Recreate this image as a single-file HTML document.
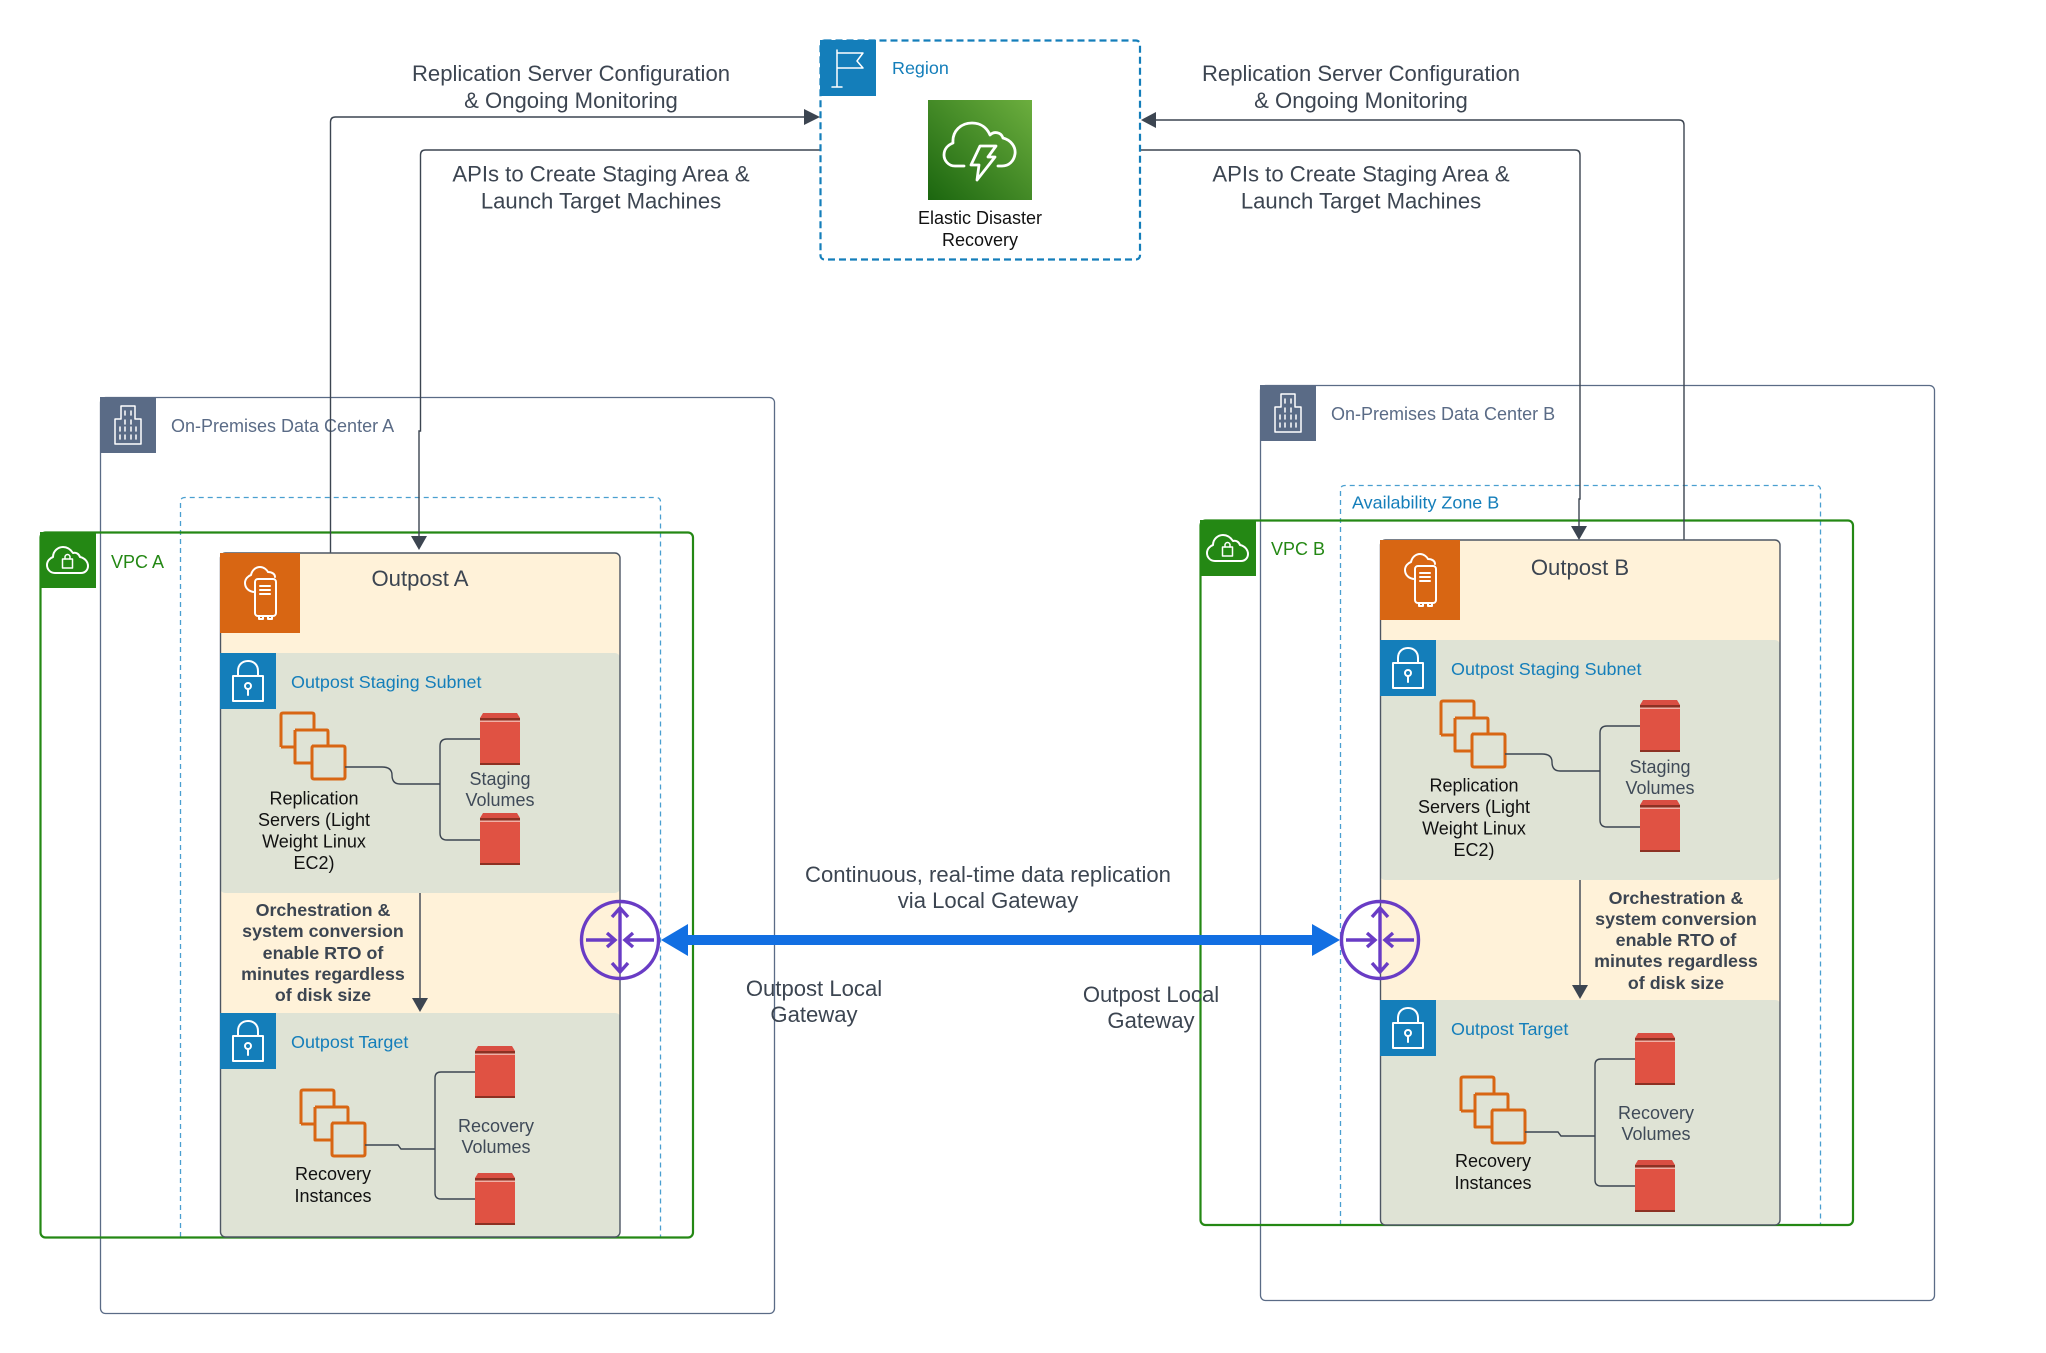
<!DOCTYPE html>
<html><head><meta charset="utf-8"><style>
html,body{margin:0;padding:0;background:#fff}
svg{display:block}
text{font-family:"Liberation Sans",sans-serif}
.big{font-size:22.1px;fill:#3c4551;text-anchor:middle}
.sm{font-size:18px;fill:#111;text-anchor:middle}
.vol{font-size:18px;fill:#3f4a58;text-anchor:middle}
.bl{font-size:17.95px;fill:#147eba}
.orc{font-size:17.85px;font-weight:bold;fill:#3c4551;text-anchor:middle}
.ln{fill:none;stroke:#3c4551;stroke-width:1.4}
.ic{fill:none;stroke:#fff;stroke-width:2;stroke-linejoin:round;stroke-linecap:round}
.th{stroke-width:1.5}
.cu{fill:none;stroke:#d86613;stroke-width:3;stroke-linejoin:round}
.rt{fill:none;stroke:#693cc5;stroke-width:3.4}
</style></head><body>
<svg width="2046" height="1353" viewBox="0 0 2046 1353" xmlns="http://www.w3.org/2000/svg">
<defs>
<linearGradient id="g" x1="0" y1="1" x2="1" y2="0"><stop offset="0" stop-color="#1b660f"/><stop offset="1" stop-color="#6cae3e"/></linearGradient>
<g id="bld"><rect width="56" height="56" fill="#5a6b86"/><path class="ic th" d="M15 47V22H21V9H35V22H41V47ZM25 14v4M31 14v4M25 23v4M31 23v4M20 30v4M25 30v4M31 30v4M36 30v4M20 38v4M25 38v4M31 38v4M36 38v4"/></g>
<g id="vpc"><rect width="56" height="56" fill="#248814"/><path class="ic" d="M17 41H15C10 41 7 37 7 33 7 29 10 26 13 25 13 19 18 15 23 15 28 15 31 18 33 21 36 20 39 22 40 25 45 26 48 30 48 34 48 38 45 41 41 41Z"/><rect class="ic th" x="22.500" y="27" width="10" height="9"/><path class="ic th" d="M25 27v-2a2.500 2.500 0 0 1 5 0v2"/></g>
<g id="lock"><rect width="56" height="56" fill="#147eba"/><rect class="ic" x="13" y="23" width="30" height="25"/><path class="ic" d="M18 23V18C18 12 22 8 28 8S38 12 38 18V23M28 36V42"/><circle class="ic" cx="28" cy="33" r="3"/></g>
<g id="out"><rect width="80" height="80" fill="#d86613"/><path class="ic" d="M35 39C29 39 25 35 25 30 25 26 28 23 31 22 32 17 36 14 40 14 44 14 47 17 48 19 52 19 55 21 55 24"/><rect class="ic" x="35" y="26" width="21" height="37" rx="3"/><path class="ic" d="M40 33H50M40 37H50M40 41H50M39 63V66H43V63M48 63V66H52V63"/></g>
<g id="cubes"><path class="cu" d="M0 34V2Q0 0 2 0H31Q33 0 33 2V16M14 17H44M14 17Q14 17 14 19V50H30M31 33H62Q64 33 64 35V64Q64 66 62 66H33Q31 66 31 64V35Q31 33 33 33"/><path class="cu" d="M0 34H13M14 17H46Q47 17 47 19V32"/></g>
<g id="v"><path fill="#e05243" d="M0 9H40V52H0Z"/><path fill="#d94e42" d="M3 0H37L40 5H0Z"/><path fill="#8c3123" d="M0 5H40V7.500H0ZM0 50H40V52H0Z"/><path fill="#f0b0a6" d="M0 7.500H40V9H0Z"/></g>
<g id="rout"><circle class="rt" r="38.500"/><path class="rt" d="M0 -32V32M-8 -23 0 -32 8 -23M-8 23 0 32 8 23M-34 0H-5M-13 -7-5 0-13 7M34 0H5M13 -7 5 0 13 7"/></g>
</defs>

<!-- data centres -->
<rect x="100.500" y="397.500" width="674" height="916" rx="5" fill="none" stroke="#5a6b86" stroke-width="1.300"/>
<use href="#bld" x="100" y="397"/>
<text x="171" y="432" font-size="18" fill="#5a6b86">On-Premises Data Center A</text>
<rect x="1260.500" y="385.500" width="674" height="915" rx="5" fill="none" stroke="#5a6b86" stroke-width="1.300"/>
<use href="#bld" x="1260" y="385"/>
<text x="1331" y="420" font-size="18" fill="#5a6b86">On-Premises Data Center B</text>

<!-- availability zones -->
<path d="M180.500 1237V502Q180.500 497.500 185 497.500H656Q660.500 497.500 660.500 502V1237" fill="none" stroke="#4a9fd0" stroke-width="1.300" stroke-dasharray="5 4"/>
<path d="M1340.500 1225V490Q1340.500 485.500 1345 485.500H1816Q1820.500 485.500 1820.500 490V1225" fill="none" stroke="#4a9fd0" stroke-width="1.300" stroke-dasharray="5 4"/>
<text x="1352" y="508.500" class="bl">Availability Zone B</text>

<!-- VPCs -->
<rect x="40.500" y="532.500" width="652.500" height="705" rx="5" fill="none" stroke="#248814" stroke-width="2.200"/>
<use href="#vpc" x="40" y="532"/>
<text x="111" y="568" font-size="18" fill="#248814">VPC A</text>
<rect x="1200.500" y="520.500" width="652.500" height="704.500" rx="5" fill="none" stroke="#248814" stroke-width="2.200"/>
<use href="#vpc" x="1200" y="520"/>
<text x="1271" y="555" font-size="18" fill="#248814">VPC B</text>

<!-- connectors -->
<path class="ln" d="M330.500 553V122Q330.500 117 335.500 117H806"/>
<path class="ln" d="M820 150H425.500Q420.500 150 420.500 155V431H419V537"/>
<path class="ln" d="M1141 150H1575Q1580 150 1580 155V499H1579V527"/>
<path class="ln" d="M1684 540V125Q1684 120 1679 120H1154"/>
<path fill="#3c4551" d="M804 109 820 117 804 125ZM1156 112 1141 120 1156 128ZM411 536H427L419 550ZM1571 526H1587L1579 540Z"/>

<!-- region -->
<rect x="820.500" y="40.500" width="319.500" height="219" rx="4" fill="#fff" stroke="#147eba" stroke-width="2.200" stroke-dasharray="7 4"/>
<rect x="820" y="40" width="56" height="56" fill="#147eba"/>
<path class="ic th" d="M837 50V87M832 87H842M837 53H863L857 61 863 68H837"/>
<text x="892" y="74" class="bl">Region</text>
<rect x="928" y="100" width="104" height="100" fill="url(#g)"/>
<path fill="none" stroke="#fff" stroke-width="2.800" stroke-linecap="round" stroke-linejoin="round" d="M964 166H955C948 166 944 160 944 155 944 149 948 145 953 143 952 131 961 123 972 123 981 123 987 128 990 135 994 131 1001 132 1003 138 1011 140 1016 147 1015 154 1014 161 1009 166 1002 166H998"/>
<path fill="none" stroke="#fff" stroke-width="2.800" stroke-linejoin="round" d="M980 146H996L988 157H995L977 180 979 165H971Z"/>
<text x="980" y="224" class="sm">Elastic Disaster</text>
<text x="980" y="246" class="sm">Recovery</text>

<!-- outpost A -->
<g>
<rect x="220" y="553" width="400" height="684" rx="5" fill="#fff2d9"/>
<rect x="220" y="653" width="400" height="240" rx="5" fill="#dfe3d5"/>
<path d="M220 1013H615Q620 1013 620 1018V1232Q620 1237 615 1237H225Q220 1237 220 1232Z" fill="#dfe3d5"/>
<rect x="220.500" y="553" width="399.500" height="684" rx="5" fill="none" stroke="#4d5663" stroke-width="1.400"/>
<use href="#out" x="220" y="553"/>
<text x="420" y="586" font-size="22.100" fill="#3c4551" text-anchor="middle">Outpost A</text>
<use href="#lock" x="220" y="653"/>
<text x="291" y="688" class="bl">Outpost Staging Subnet</text>
<g transform="translate(281,713)"><use href="#cubes"/></g>
<path class="ln" d="M345 767H382Q392 767 392 775 392 784 400 784H440M480 739H447Q440 739 440 746V833Q440 840 447 840H480"/>
<use href="#v" x="480" y="713"/><use href="#v" x="480" y="813"/>
<text x="314" y="804.500" class="sm">Replication</text><text x="314" y="826" class="sm">Servers (Light</text><text x="314" y="847.500" class="sm">Weight Linux</text><text x="314" y="869" class="sm">EC2)</text>
<text x="500" y="785" class="vol">Staging</text><text x="500" y="806" class="vol">Volumes</text>
<text x="323" y="916" class="orc">Orchestration &amp;</text><text x="323" y="937" class="orc">system conversion</text><text x="323" y="959" class="orc">enable RTO of</text><text x="323" y="980" class="orc">minutes regardless</text><text x="323" y="1001" class="orc">of disk size</text>
<path class="ln" d="M420 893V1000"/><path fill="#3c4551" d="M412 998H428L420 1012Z"/>
<use href="#lock" x="220" y="1013"/>
<text x="291" y="1048" class="bl">Outpost Target</text>
<g transform="translate(301,1090)"><use href="#cubes"/></g>
<path class="ln" d="M365 1145H398L401 1149H435M475 1072H441Q435 1072 435 1078V1193Q435 1199 441 1199H475"/>
<use href="#v" x="475" y="1046"/><use href="#v" x="475" y="1173"/>
<text x="333" y="1180" class="sm">Recovery</text><text x="333" y="1202" class="sm">Instances</text>
<text x="496" y="1132" class="vol">Recovery</text><text x="496" y="1153" class="vol">Volumes</text>
</g>

<!-- outpost B -->
<g transform="translate(1160,-13)">
<rect x="220" y="553" width="400" height="685" rx="5" fill="#fff2d9"/>
<rect x="220" y="653" width="400" height="240" rx="5" fill="#dfe3d5"/>
<path d="M220 1013H615Q620 1013 620 1018V1233Q620 1238 615 1238H225Q220 1238 220 1233Z" fill="#dfe3d5"/>
<rect x="220.500" y="553" width="399.500" height="685" rx="5" fill="none" stroke="#4d5663" stroke-width="1.400"/>
<use href="#out" x="220" y="553"/>
<text x="420" y="588" font-size="22.100" fill="#3c4551" text-anchor="middle">Outpost B</text>
<use href="#lock" x="220" y="653"/>
<text x="291" y="688" class="bl">Outpost Staging Subnet</text>
<g transform="translate(281,714)"><use href="#cubes"/></g>
<path class="ln" d="M345 767H382Q392 767 392 775 392 784 400 784H440M480 739H447Q440 739 440 746V833Q440 840 447 840H480"/>
<use href="#v" x="480" y="713"/><use href="#v" x="480" y="813"/>
<text x="314" y="804.500" class="sm">Replication</text><text x="314" y="826" class="sm">Servers (Light</text><text x="314" y="847.500" class="sm">Weight Linux</text><text x="314" y="869" class="sm">EC2)</text>
<text x="500" y="786" class="vol">Staging</text><text x="500" y="807" class="vol">Volumes</text>
<text x="516" y="917" class="orc">Orchestration &amp;</text><text x="516" y="938" class="orc">system conversion</text><text x="516" y="959" class="orc">enable RTO of</text><text x="516" y="980" class="orc">minutes regardless</text><text x="516" y="1002" class="orc">of disk size</text>
<path class="ln" d="M420 893V1000"/><path fill="#3c4551" d="M412 998H428L420 1012Z"/>
<use href="#lock" x="220" y="1013"/>
<text x="291" y="1048" class="bl">Outpost Target</text>
<g transform="translate(301,1090)"><use href="#cubes"/></g>
<path class="ln" d="M365 1145H398L401 1149H435M475 1072H441Q435 1072 435 1078V1193Q435 1199 441 1199H475"/>
<use href="#v" x="475" y="1046"/><use href="#v" x="475" y="1173"/>
<text x="333" y="1180" class="sm">Recovery</text><text x="333" y="1202" class="sm">Instances</text>
<text x="496" y="1132" class="vol">Recovery</text><text x="496" y="1153" class="vol">Volumes</text>
</g>

<!-- gateway link -->
<path fill="#126fe2" d="M661 940 688 924V935H1312V924L1340 940 1312 956V945H688V956Z"/>
<use href="#rout" x="620" y="940"/>
<use href="#rout" x="1380" y="940"/>

<!-- labels -->
<text class="big" x="571" y="81">Replication Server Configuration</text>
<text class="big" x="571" y="108">&amp; Ongoing Monitoring</text>
<text class="big" x="601" y="181.500" >APIs to Create Staging Area &amp;</text>
<text class="big" x="601" y="208.500">Launch Target Machines</text>
<text class="big" x="1361" y="81">Replication Server Configuration</text>
<text class="big" x="1361" y="108">&amp; Ongoing Monitoring</text>
<text class="big" x="1361" y="181.500">APIs to Create Staging Area &amp;</text>
<text class="big" x="1361" y="208.500">Launch Target Machines</text>
<text class="big" x="988" y="882">Continuous, real-time data replication</text>
<text class="big" x="988" y="908">via Local Gateway</text>
<text class="big" x="814" y="996">Outpost Local</text>
<text class="big" x="814" y="1022">Gateway</text>
<text class="big" x="1151" y="1002">Outpost Local</text>
<text class="big" x="1151" y="1028">Gateway</text>
</svg>
</body></html>
